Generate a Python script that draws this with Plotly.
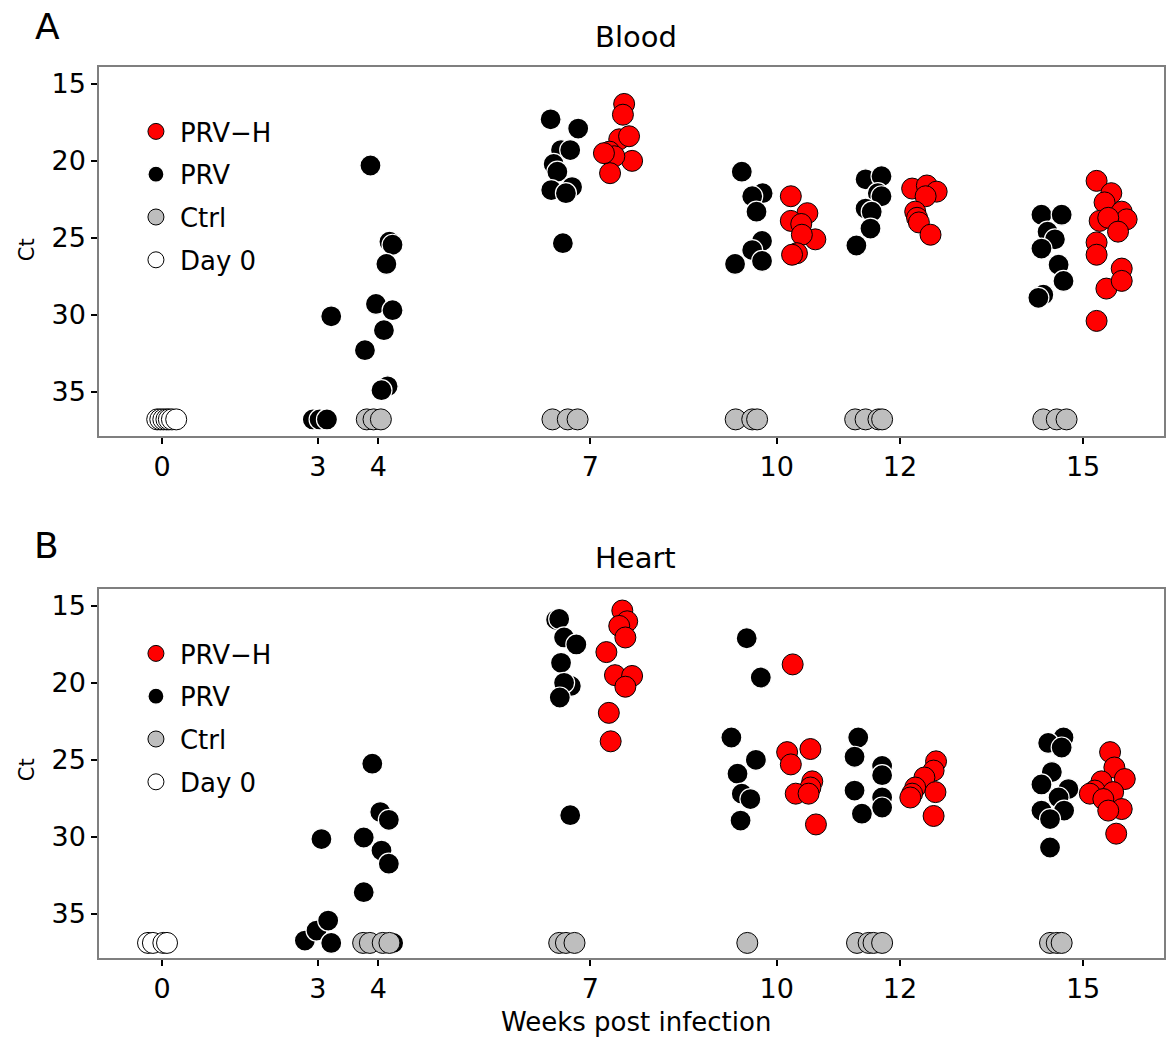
import plotly.graph_objects as go

# ---------------------------------------------------------------
# Ct values of PRV in blood and heart by weeks post infection.
# x values are the sampling time (weeks) plus horizontal jitter.
# ---------------------------------------------------------------
week_ticks = [0, 2.54, 3.53, 6.99, 10.03, 12.04, 15.03]
week_labels = ["0", "3", "4", "7", "10", "12", "15"]

# ---- Blood ----
blood_day0_x = [-0.08, -0.03, 0.02, 0.07, 0.11, 0.16, 0.23]
blood_day0_ct = [36.8, 36.8, 36.8, 36.8, 36.8, 36.8, 36.8]

blood_prv_x = [2.46, 2.57, 2.69, 2.76,
               3.40, 3.71, 3.76, 3.66, 3.49, 3.76, 3.62, 3.31, 3.68, 3.58,
               6.34, 6.79, 6.51, 6.66, 6.39, 6.45, 6.35, 6.69, 6.59, 6.54,
               9.46, 9.80, 9.63, 9.70, 9.79, 9.63, 9.79, 9.35,
               11.48, 11.74, 11.68, 11.74, 11.48, 11.58, 11.56, 11.33,
               14.35, 14.68, 14.45, 14.57, 14.35, 14.63, 14.71, 14.38, 14.30]
blood_prv_ct = [36.8, 36.8, 36.8, 30.1,
                20.3, 25.25, 25.45, 26.7, 29.3, 29.7, 31.0, 32.3, 34.65, 34.9,
                17.3, 17.9, 19.3, 19.3, 20.2, 20.7, 21.9, 21.7, 22.1, 25.35,
                20.7, 22.1, 22.3, 23.3, 25.2, 25.8, 26.5, 26.7,
                21.2, 21.0, 22.1, 22.3, 23.1, 23.3, 24.4, 25.5,
                23.5, 23.5, 24.6, 25.1, 25.7, 26.75, 27.8, 28.7, 28.9]

blood_ctrl_x = [3.34, 3.45, 3.57,
                6.37, 6.62, 6.78,
                9.36, 9.63, 9.71,
                11.31, 11.48, 11.69, 11.75,
                14.38, 14.60, 14.76]
blood_ctrl_ct = [36.8] * 16

blood_prvh_x = [7.54, 7.52, 7.46, 7.62, 7.30, 7.67, 7.38, 7.31, 7.21,
                10.26, 10.53, 10.26, 10.43, 10.66, 10.44, 10.36, 10.28,
                12.24, 12.48, 12.64, 12.46, 12.29, 12.32, 12.35, 12.54,
                15.25, 15.49, 15.38, 15.66, 15.74, 15.30, 15.44, 15.60,
                15.25, 15.25, 15.66, 15.41, 15.66, 15.25]
blood_prvh_ct = [16.3, 17.0, 18.6, 18.4, 19.4, 20.0, 19.7, 20.8, 19.5,
                 22.3, 23.4, 23.9, 24.1, 25.1, 24.8, 26.0, 26.1,
                 21.8, 21.6, 22.0, 22.3, 23.3, 23.7, 24.0, 24.8,
                 21.3, 22.1, 22.7, 23.3, 23.8, 23.9, 23.7, 24.6,
                 25.3, 26.1, 27.0, 28.3, 27.8, 30.4]

# ---- Heart ----
heart_day0_x = [-0.23, -0.15, 0.02, 0.08]
heart_day0_ct = [36.9, 36.9, 36.9, 36.9]

heart_prv_x = [2.60, 2.33, 2.52, 2.71, 2.76,
               3.43, 3.56, 3.70, 3.29, 3.58, 3.70, 3.29, 3.77,
               6.43, 6.48, 6.56, 6.76, 6.51, 6.67, 6.56, 6.49, 6.66,
               9.54, 9.77, 9.29, 9.69, 9.39, 9.46, 9.60, 9.44,
               11.36, 11.30, 11.75, 11.75, 11.30, 11.75, 11.75, 11.42,
               14.71, 14.46, 14.68, 14.52, 14.35, 14.79, 14.63, 14.35,
               14.72, 14.49, 14.49]
heart_prv_ct = [30.15, 36.75, 36.1, 35.45, 36.9,
                25.25, 28.4, 28.9, 30.05, 30.9, 31.75, 33.6, 36.9,
                15.9, 15.85, 17.05, 17.5, 18.7, 20.2, 20.0, 20.95, 28.6,
                17.1, 19.65, 23.55, 25.0, 25.9, 27.2, 27.55, 28.95,
                23.55, 24.8, 25.4, 26.0, 27.0, 27.45, 28.1, 28.5,
                23.55, 23.9, 24.2, 25.8, 26.6, 26.9, 27.45, 28.3,
                28.3, 28.85, 30.7]

heart_ctrl_x = [3.28, 3.39, 3.60, 3.71,
                6.48, 6.59, 6.73,
                9.55,
                11.34, 11.53, 11.61, 11.75,
                14.49, 14.60, 14.68]
heart_ctrl_ct = [36.9] * 15

heart_prvh_x = [7.51, 7.59, 7.46, 7.56, 7.25, 7.39, 7.67, 7.56, 7.29, 7.32,
                10.29, 10.20, 10.58, 10.26, 10.61, 10.58, 10.34, 10.55, 10.67,
                12.63, 12.59, 12.44, 12.29, 12.24, 12.21, 12.62, 12.59,
                15.47, 15.54, 15.71, 15.33, 15.22, 15.14, 15.52, 15.36,
                15.66, 15.44, 15.57]
heart_prvh_ct = [15.3, 16.0, 16.3, 17.05, 18.0, 19.5, 19.55, 20.25, 21.95, 23.8,
                 18.8, 24.5, 24.3, 25.3, 26.4, 26.8, 27.2, 27.2, 29.2,
                 25.1, 25.7, 26.15, 26.8, 27.2, 27.45, 27.1, 28.65,
                 24.5, 25.5, 26.25, 26.4, 27.0, 27.2, 27.1, 27.55,
                 28.2, 28.3, 29.8]

# ---------------------------------------------------------------
FONT = "DejaVu Sans, Verdana, sans-serif"
MS = 21

styles = {
    "Day 0": dict(color="white", line=dict(color="black", width=1)),
    "PRV": dict(color="black", line=dict(color="white", width=1.2)),
    "Ctrl": dict(color="#BEBEBE", line=dict(color="black", width=1)),
    "PRV\u2212H": dict(color="#FF0000", line=dict(color="black", width=1)),
}
ranks = {"PRV\u2212H": 1, "PRV": 2, "Ctrl": 3, "Day 0": 4}

panels = [
    ("x", "y", "legend", [("Day 0", blood_day0_x, blood_day0_ct),
                          ("PRV", blood_prv_x, blood_prv_ct),
                          ("Ctrl", blood_ctrl_x, blood_ctrl_ct),
                          ("PRV\u2212H", blood_prvh_x, blood_prvh_ct)]),
    ("x2", "y2", "legend2", [("Day 0", heart_day0_x, heart_day0_ct),
                             ("PRV", heart_prv_x, heart_prv_ct),
                             ("Ctrl", heart_ctrl_x, heart_ctrl_ct),
                             ("PRV\u2212H", heart_prvh_x, heart_prvh_ct)]),
]

fig = go.Figure()
for xa, ya, lg, groups in panels:
    for name, xs, ys in groups:
        st = styles[name]
        fig.add_trace(go.Scatter(
            x=xs, y=ys, mode="markers", name=name,
            xaxis=xa, yaxis=ya, legend=lg,
            legendgroup=lg + name, legendrank=ranks[name],
            marker=dict(size=MS, color=st["color"], line=st["line"]),
            hoverinfo="x+y",
        ))

W, H = 1168, 1038
L, R, T, B = 99, 2, 67, 80
ph = H - T - B
top_a, bot_a = 67, 436
top_b, bot_b = 589, 958


def py(px):
    return (H - B - px) / ph


def pxx(px):
    return (px - L) / (W - L - R)


axis_common = dict(
    showline=True, linecolor="#7F7F7F", linewidth=1.5, mirror=True,
    ticks="outside", ticklen=6, tickwidth=2, tickcolor="black",
    showgrid=False, zeroline=False,
    tickfont=dict(family=FONT, size=27, color="black"),
)
xax = dict(axis_common, range=[-1.03, 16.35], tickmode="array",
           tickvals=week_ticks, ticktext=week_labels)
yax = dict(axis_common, range=[37.88, 13.9], tickmode="array",
           tickvals=[15, 20, 25, 30, 35])

legend_common = dict(
    font=dict(family=FONT, size=26, color="black"),
    bgcolor="rgba(0,0,0,0)", borderwidth=0,
    tracegroupgap=6, itemsizing="trace", itemwidth=38,
    xanchor="left", yanchor="top", xref="paper", yref="paper",
)

fig.update_layout(
    width=W, height=H,
    margin=dict(l=L, r=R, t=T, b=B),
    paper_bgcolor="white", plot_bgcolor="white",
    font=dict(family=FONT, color="black"),
    xaxis=dict(xax, domain=[0, 1], anchor="y"),
    yaxis=dict(yax, domain=[py(bot_a), py(top_a)], anchor="x"),
    xaxis2=dict(xax, domain=[0, 1], anchor="y2"),
    yaxis2=dict(yax, domain=[py(bot_b), py(top_b)], anchor="x2"),
    legend=dict(legend_common, x=pxx(132), y=py(108)),
    legend2=dict(legend_common, x=pxx(132), y=py(630)),
    showlegend=True,
)

ann = [
    dict(text="A", x=pxx(47), y=py(27), size=36),
    dict(text="B", x=pxx(46), y=py(545), size=36),
    dict(text="Blood", x=pxx(637), y=py(37), size=29),
    dict(text="Heart", x=pxx(637), y=py(558), size=29),
    dict(text="Weeks post infection", x=pxx(637), y=py(1022), size=26),
]
for a in ann:
    fig.add_annotation(text=a["text"], x=a["x"], y=a["y"], xref="paper", yref="paper",
                       xanchor="center", yanchor="middle", showarrow=False,
                       font=dict(family=FONT, size=a["size"], color="black"))
for yc in (250, 770):
    fig.add_annotation(text="Ct", x=pxx(27), y=py(yc), xref="paper", yref="paper",
                       xanchor="center", yanchor="middle", showarrow=False, textangle=-90,
                       font=dict(family=FONT, size=21, color="black"))

fig.write_html("out.html")
